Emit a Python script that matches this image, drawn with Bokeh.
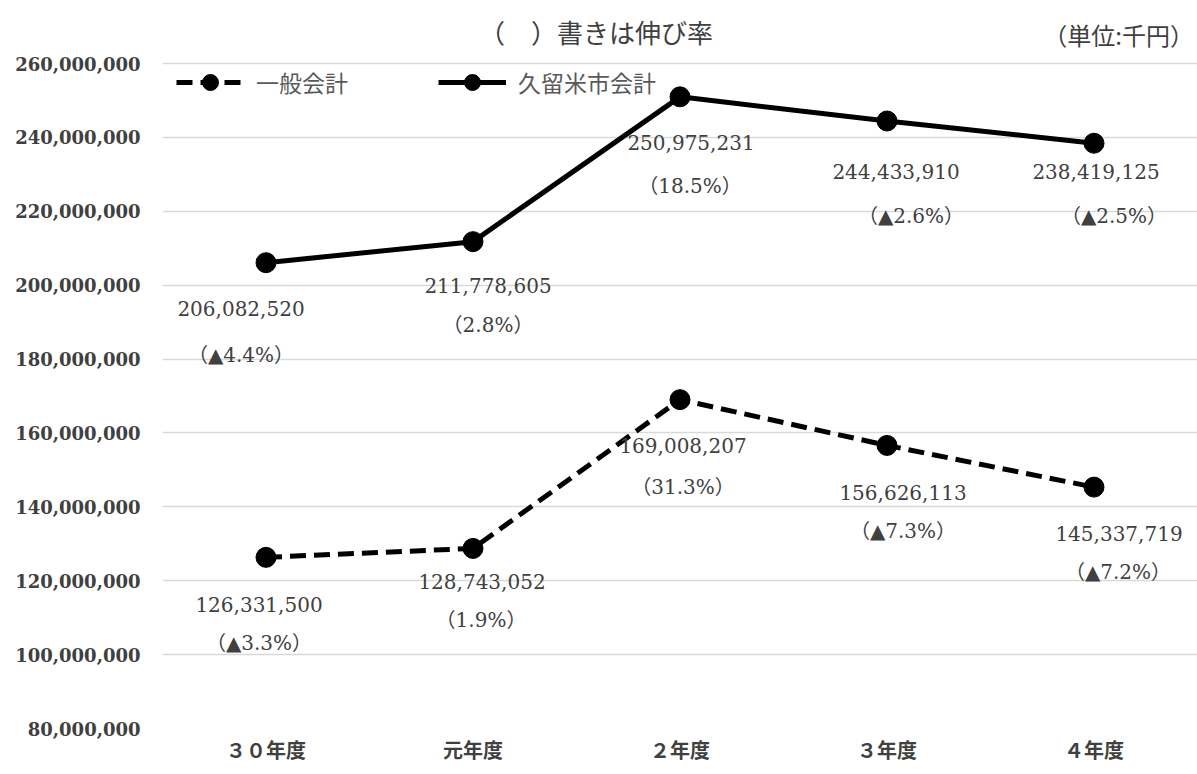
from bokeh.plotting import figure
from bokeh.models import (FixedTicker, NumeralTickFormatter, Legend, LegendItem,
                          ColumnDataSource, Range1d, FactorRange)
from bokeh.core.properties import value
from bokeh.embed import file_html
from bokeh.resources import INLINE

# ---- data ----
years = ["３０年度", "元年度", "２年度", "３年度", "４年度"]
general = [126331500, 128743052, 169008207, 156626113, 145337719]
kurume = [206082520, 211778605, 250975231, 244433910, 238419125]
general_rate = ["（▲3.3%）", "（1.9%）", "（31.3%）", "（▲7.3%）", "（▲7.2%）"]
kurume_rate = ["（▲4.4%）", "（2.8%）", "（18.5%）", "（▲2.6%）", "（▲2.5%）"]
y_ticks = [80000000, 100000000, 120000000, 140000000, 160000000, 180000000,
           200000000, 220000000, 240000000, 260000000]
title_text = "（　）書きは伸び率"
unit_text = "（単位:千円）"

# ---- label placement (screen px offsets) ----
k_dx1 = [-25, 15, 11, 9, 2]
k_dy1 = [46, 44, 46, 50, 28]
k_dx2 = [-25, 15, 10, 24, 20]
k_dy2 = [92, 83, 89, 95, 73]
g_dx1 = [-7, 9, 3, 16, 25]
g_dy1 = [47, 33, 46, 47, 46]
g_dx2 = [-7, 8, 3, 16, 24]
g_dy2 = [86, 72, 87, 86, 85]

serif = "'DejaVu Serif', 'Noto Sans CJK JP'"
txt_color = "#404040"

# plot area: 260M at 63px from top, 80M at 728px -> extend range to canvas top for header texts
top_px, bottom_px = 63, 728
units_per_px = (y_ticks[-1] - y_ticks[0]) / (bottom_px - top_px)
y_end = y_ticks[-1] + top_px * units_per_px

p = figure(width=1197, height=774, x_range=FactorRange(factors=years),
           y_range=Range1d(y_ticks[0], y_end),
           output_backend="svg", toolbar_location=None,
           min_border_left=162, min_border_right=0, min_border_top=0, min_border_bottom=774 - bottom_px)
p.outline_line_color = None
p.background_fill_color = "white"
p.border_fill_color = "white"

# axes
p.yaxis.ticker = FixedTicker(ticks=y_ticks)
p.yaxis.formatter = NumeralTickFormatter(format="0,0")
p.yaxis.axis_line_color = None
p.yaxis.major_tick_line_color = None
p.yaxis.minor_tick_line_color = None
p.yaxis.major_tick_out = 0
p.yaxis.major_tick_in = 0
p.yaxis.major_label_standoff = 22
p.yaxis.major_label_text_font = serif
p.yaxis.major_label_text_font_style = "bold"
p.yaxis.major_label_text_font_size = "18px"
p.yaxis.major_label_text_color = txt_color

p.xaxis.axis_line_color = None
p.xaxis.major_tick_line_color = None
p.xaxis.minor_tick_line_color = None
p.xaxis.major_tick_out = 0
p.xaxis.major_tick_in = 0
p.xaxis.major_label_standoff = 10
p.xaxis.major_label_text_font = serif
p.xaxis.major_label_text_font_style = "bold"
p.xaxis.major_label_text_font_size = "20px"
p.xaxis.major_label_text_color = txt_color

p.xgrid.grid_line_color = None
p.ygrid.grid_line_color = "#d9d9d9"
p.ygrid.grid_line_width = 1.3

src = ColumnDataSource(dict(
    x=years, g=general, k=kurume, gr=general_rate, kr=kurume_rate,
    kdx1=k_dx1, kdy1=k_dy1, kdx2=k_dx2, kdy2=k_dy2,
    gdx1=g_dx1, gdy1=g_dy1, gdx2=g_dx2, gdy2=g_dy2,
    gl=[f"{v:,}" for v in general], kl=[f"{v:,}" for v in kurume],
))

g_line = p.line("x", "g", source=src, line_color="black", line_width=5, line_dash="16 8")
g_pts = p.scatter("x", "g", source=src, size=20, marker="circle", fill_color="black", line_color="black")
k_line = p.line("x", "k", source=src, line_color="black", line_width=5)
k_pts = p.scatter("x", "k", source=src, size=20, marker="circle", fill_color="black", line_color="black")

common = dict(source=src, text_font=value(serif), text_font_size="20px", text_color=txt_color,
              text_align="center", text_baseline="middle")
p.text(x="x", y="k", text="kl", x_offset="kdx1", y_offset="kdy1", **common)
p.text(x="x", y="k", text="kr", x_offset="kdx2", y_offset="kdy2", **common)
p.text(x="x", y="g", text="gl", x_offset="gdx1", y_offset="gdy1", **common)
p.text(x="x", y="g", text="gr", x_offset="gdx2", y_offset="gdy2", **common)

legend = Legend(items=[LegendItem(label="一般会計", renderers=[g_line, g_pts]),
                       LegendItem(label="久留米市会計", renderers=[k_line, k_pts])],
                location=(14, 626), orientation="horizontal",
                glyph_width=68, glyph_height=40, label_standoff=12, spacing=90,
                padding=0, margin=0, border_line_color=None, background_fill_alpha=0,
                label_text_font="Noto Sans CJK JP", label_text_font_size="23px",
                label_text_color="#595959")
p.add_layout(legend)

# header texts (placed relative to the 2年度 / 4年度 categories at the 260M line)
p.text(x=[years[2]], y=[y_ticks[-1]], text=[title_text], x_offset=-84, y_offset=-32,
       text_font=value("Noto Sans CJK JP"), text_font_size="26px", text_color=txt_color,
       text_align="center", text_baseline="middle")
p.text(x=[years[4]], y=[y_ticks[-1]], text=[unit_text], x_offset=100, y_offset=-29,
       text_font=value("Noto Sans CJK JP"), text_font_size="24px", text_color=txt_color,
       text_align="right", text_baseline="middle")

open("out.html", "w").write(file_html(p, INLINE))
